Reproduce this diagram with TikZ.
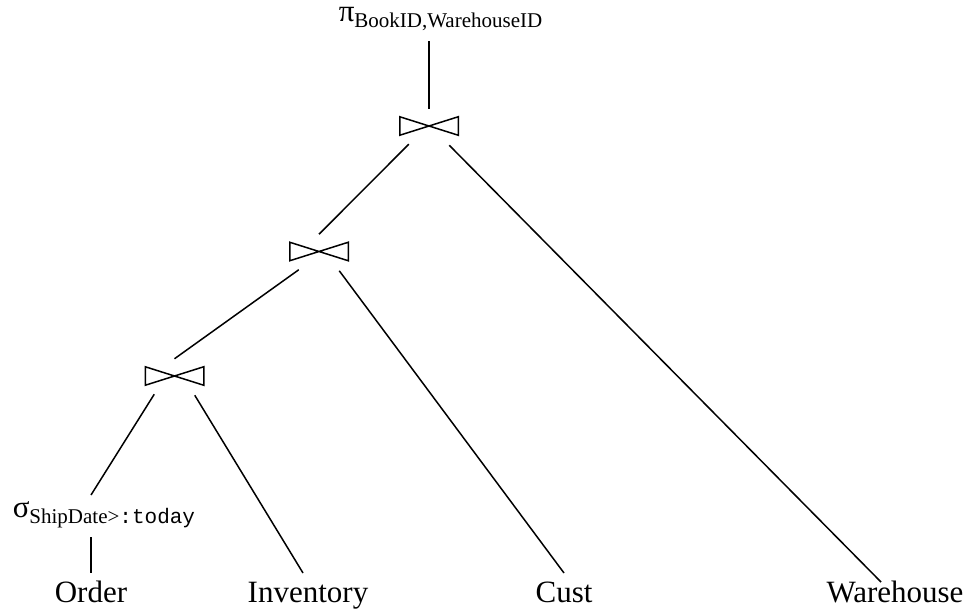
\documentclass[tikz,border=0pt]{standalone}
\usepackage{fontspec}
\setmainfont{Liberation Serif}
\setmonofont{Liberation Mono}
\newcommand{\opsub}[1]{\raisebox{-6pt}{\fontsize{21}{25}\selectfont #1}}
\tikzset{
  rel/.style={font=\fontsize{31}{37}\selectfont, inner sep=0pt, text height=21pt, text depth=7pt, outer ysep=8pt, anchor=base},
  op/.style={font=\fontsize{31}{37}\selectfont, inner sep=0pt, text height=14pt, text depth=12pt, outer ysep=8pt, anchor=base west},
  joinop/.style={inner sep=0pt, minimum width=57pt, minimum height=17pt},
}
\begin{document}
\begin{tikzpicture}[x=1pt, y=-1pt, line width=1.5pt]
    \useasboundingbox (0, 0) rectangle (970, 613);

    \node [op] (proj) at (338, 21) {π\opsub{BookID,WarehouseID}};
    \node [op] (sel) at (12, 517) {σ\opsub{ShipDate>\texttt{:today}}};

    \node [joinop] (j1) at (429, 126) {};
    \node [joinop] (j2) at (319, 251.5) {};
    \node [joinop] (j3) at (174.5, 376) {};

    \node [rel] (ord) at (91, 602) {Order};
    \node [rel] (inv) at (308, 602) {Inventory};
    \node [rel] (cust) at (564, 602) {Cust};
    \node [rel] (ware) at (895, 602) {Warehouse};

    % bowties and the ends of their lines
    \foreach \j in {j1, j2, j3} {
      \draw (\j.north west) -- (\j.south east) -- (\j.north east) -- (\j.south west) -- cycle;
      \coordinate (\j-in) at ([yshift=8pt]\j.north);
      \coordinate (\j-l) at ([xshift=9pt, yshift=-9pt]\j.south west);
      \coordinate (\j-r) at ([xshift=-9pt, yshift=-10pt]\j.south east);
    }

    \draw (proj.south -| j1-in) -- (j1-in);
    \draw (j1-l) -- (j2-in);
    \draw (j1-r) -- ([xshift=-14pt, yshift=-9pt]ware.north);
    \draw (j2-l) -- (j3-in);
    \draw (j2-r) -- (cust.north);
    \draw (j3-l) -- (sel.north -| ord.north);
    \draw (j3-r) -- ([xshift=-5pt]inv.north);
    \draw (sel.south -| ord.north) -- (ord.north);
  \end{tikzpicture}
\end{document}
